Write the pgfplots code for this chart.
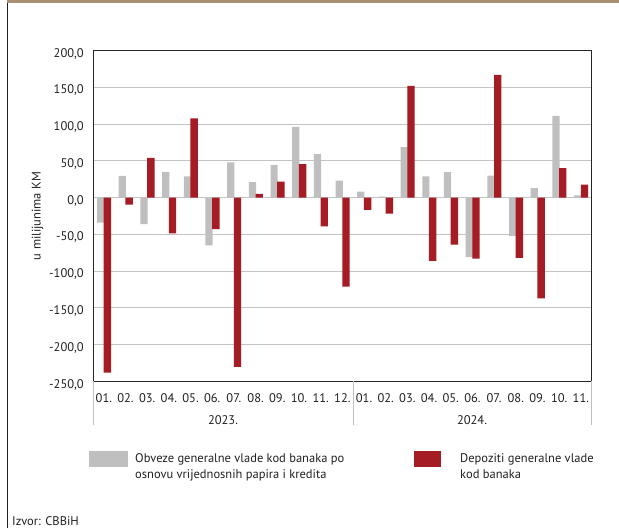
\documentclass[border=0pt]{standalone}
\usepackage{fontspec}
\setmainfont{PT Sans}
\usepackage{pgfplots}
\usepackage{pgfplotstable}
\pgfplotsset{compat=1.18}
\definecolor{cgray}{RGB}{191,191,191}
\definecolor{cgrid}{RGB}{196,196,196}
\definecolor{cred}{RGB}{166,28,36}
\definecolor{ctan}{RGB}{168,144,116}
\definecolor{ctext}{RGB}{35,31,32}
\pgfplotstableread{
x g r
0 -34 -238
1 29.5 -9.5
2 -36 54
3 35 -48.6
4 29 107.7
5 -65 -43
6 48 -230
7 21 5
8 44 21.8
9 96 45.5
10 59 -39
11 23 -121
12 8 -16.8
13 1.5 -21.8
14 68.6 151.8
15 29 -86
16 34.5 -64
17 -81 -83
18 30 166.8
19 -52 -82
20 13 -137
21 111 40
22 3 17.7
}\datatable
\newcommand\cf{\fontsize{12.5}{14}\selectfont}
\begin{document}
\cf
\begin{tikzpicture}[x=1pt,y=1pt]
\useasboundingbox (0,0) rectangle (619,528);
\fill[ctan] (7,525) rectangle (619,528);
\draw[ctext, line width=0.8pt] (7,0) -- (7,525);
\begin{axis}[
 at={(93pt,146.5pt)}, anchor=south west, scale only axis,
 width=498.7pt, height=331pt,
 xmin=-0.5, xmax=22.5, ymin=-250, ymax=200,
 ytick={-250,-200,...,200},
 xtick={0,...,22},
 xticklabels={01.,02.,03.,04.,05.,06.,07.,08.,09.,10.,11.,12.,01.,02.,03.,04.,05.,06.,07.,08.,09.,10.,11.},
 ymajorgrids, grid style={cgrid, line width=0.9pt},
 major tick length=0pt,
 axis line style={black!85, line width=0.8pt},
 tick label style={font=\cf, text=ctext},
 yticklabel style={/pgf/number format/.cd, fixed, fixed zerofill, precision=1, use comma, 1000 sep={}, /tikz/.cd, anchor=east, inner sep=0pt, xshift=-9pt, yshift=-3pt},
 xticklabel style={anchor=base, inner sep=0pt, yshift=-21pt},
 /pgf/number format/assume math mode=true,
 ylabel={u milijunima KM},
 ylabel style={at={(axis description cs:-0.111,0.5)}, anchor=center, font=\cf, text=ctext},
 clip=false,
]
\addplot[ybar, bar width=7.2pt, bar shift=-3.2pt, fill=cgray, draw=none] table[x=x, y=g] {\datatable};
\addplot[ybar, bar width=7.4pt, bar shift=3.6pt, fill=cred, draw=none] table[x=x, y=r] {\datatable};
\end{axis}
\draw[cgray, line width=0.8pt] (93,146.5) -- (93,103);
\draw[cgray, line width=0.8pt] (353.2,146.5) -- (353.2,103);
\draw[cgray, line width=0.8pt] (591.7,146.5) -- (591.7,103);
\node[anchor=base, text=ctext, inner sep=0pt] at (223,103) {2023.};
\node[anchor=base, text=ctext, inner sep=0pt] at (472,103) {2024.};
% legend
\fill[cgray] (89,61) rectangle (128,77);
\node[anchor=base west, text=ctext, inner sep=0pt] at (135,65) {Obveze generalne vlade kod banaka po};
\node[anchor=base west, text=ctext, inner sep=0pt] at (135,49) {osnovu vrijednosnih papira i kredita};
\fill[cred] (414,61) rectangle (440.5,77);
\node[anchor=base west, text=ctext, inner sep=0pt] at (460,65) {Depoziti generalne vlade};
\node[anchor=base west, text=ctext, inner sep=0pt] at (460,49) {kod banaka};
\node[anchor=base west, text=ctext, inner sep=0pt] at (12,3) {Izvor: CBBiH};
\end{tikzpicture}
\end{document}
